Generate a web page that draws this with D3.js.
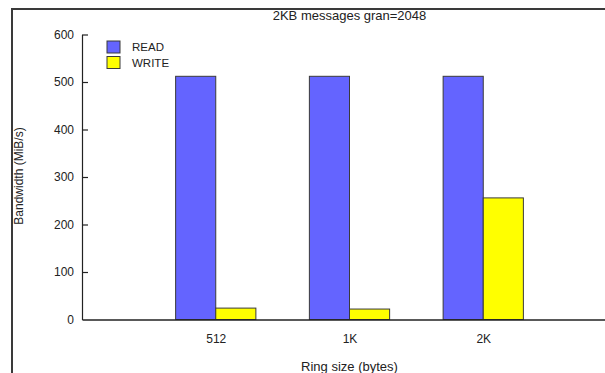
<!DOCTYPE html>
<html>
<head>
<meta charset="utf-8">
<script src="https://cdn.jsdelivr.net/npm/d3@7"></script>
<style>
  body { margin: 0; background: #fff; }
  text { font-family: "Liberation Sans", Arial, sans-serif; fill: #222; }
</style>
</head>
<body>
<div id="chart"></div>
<script>
// chart values
var categories = ["512", "1K", "2K"];
var readValues = [512, 512, 512];
var writeValues = [24, 22, 256];
var seriesNames = ["READ", "WRITE"];
var yTicks = [0, 100, 200, 300, 400, 500, 600];

var colors = {READ: "#6464ff", WRITE: "#ffff00"};

var svg = d3.select("#chart")
    .append("svg")
    .attr("width", 605)
    .attr("height", 373);

// frame round the whole plot
svg.append("rect")
    .attr("x", 12)
    .attr("y", 9)
    .attr("width", 700)
    .attr("height", 500)
    .attr("fill", "none")
    .attr("stroke", "#3a3a3a")
    .attr("stroke-width", 2);

// scales: categories sit at 1, 2, 3 on a 0..4 axis
var x = d3.scaleLinear()
    .domain([0, 4])
    .range([82, 617]);

var y = d3.scaleLinear()
    .domain([0, 600])
    .range([319.5, 34.5]);

var barW = x(0.3) - x(0);

// Y axis with ticks pointing inward
svg.append("g")
    .attr("transform", "translate(" + x(0) + ",0)")
    .call(d3.axisLeft(y).tickValues(yTicks).tickSize(-6).tickSizeOuter(0).tickPadding(8))
    .call(function (g) {
        g.selectAll("path, line").attr("stroke", "#222").attr("stroke-width", 1.2);
        g.selectAll("text").style("font-size", "12px").attr("fill", "#222")
            .style("font-family", "'Liberation Sans', Arial, sans-serif");
        g.selectAll(".tick").filter(function (d) { return d === 0; }).select("line").remove();
    });

// bars
categories.forEach(function (c, i) {
    svg.append("rect")
        .attr("x", x(i + 1) - barW)
        .attr("y", y(readValues[i]))
        .attr("width", barW)
        .attr("height", y(0) - y(readValues[i]))
        .attr("fill", colors.READ)
        .attr("stroke", "#3a3a3a")
        .attr("stroke-width", 1);
    svg.append("rect")
        .attr("x", x(i + 1))
        .attr("y", y(writeValues[i]))
        .attr("width", barW)
        .attr("height", y(0) - y(writeValues[i]))
        .attr("fill", colors.WRITE)
        .attr("stroke", "#3a3a3a")
        .attr("stroke-width", 1);
});

// X axis: plain line with category labels
svg.append("g")
    .attr("transform", "translate(0," + y(0) + ")")
    .call(d3.axisBottom(x).tickValues([1, 2, 3])
        .tickFormat(function (d) { return categories[d - 1]; })
        .tickSize(0).tickSizeOuter(0).tickPadding(15))
    .call(function (g) {
        g.select(".domain").attr("stroke", "#222").attr("stroke-width", 1.5);
        g.selectAll("text").style("font-size", "12px").attr("fill", "#222")
            .style("font-family", "'Liberation Sans', Arial, sans-serif");
    });

// title
svg.append("text")
    .attr("x", 349.5)
    .attr("y", 20)
    .style("text-anchor", "middle")
    .style("font-size", "13px")
    .text("2KB messages gran=2048");

// axis titles
svg.append("text")
    .attr("x", 349.5)
    .attr("y", 371)
    .style("text-anchor", "middle")
    .style("font-size", "13px")
    .text("Ring size (bytes)");

svg.append("text")
    .attr("transform", "translate(22.5,176) rotate(-90)")
    .style("text-anchor", "middle")
    .style("font-size", "12px")
    .text("Bandwidth (MiB/s)");

// legend
var legend = svg.append("g").attr("transform", "translate(107,41)");
seriesNames.forEach(function (name, i) {
    legend.append("rect")
        .attr("x", 0)
        .attr("y", i * 15.5)
        .attr("width", 13)
        .attr("height", 12)
        .attr("fill", colors[name])
        .attr("stroke", "#3a3a3a")
        .attr("stroke-width", 1);
    legend.append("text")
        .attr("x", 25)
        .attr("y", i * 15.5 + 10)
        .style("font-size", "11.5px")
        .text(name);
});
</script>
</body>
</html>
